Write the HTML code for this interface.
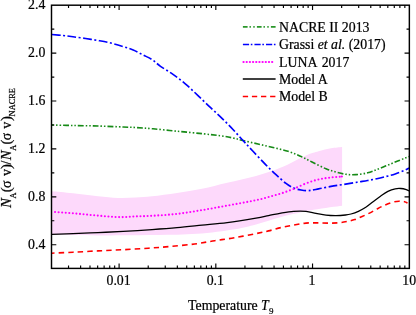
<!DOCTYPE html>
<html><head><meta charset="utf-8">
<style>
html,body{margin:0;padding:0;background:#fff;}
body{width:416px;height:315px;overflow:hidden;}
svg{display:block;will-change:transform;}
text{font-family:"Liberation Serif",serif;font-size:13.8px;fill:#000;stroke:#000;stroke-width:0.22px;}
</style></head><body>
<svg width="416" height="315" viewBox="0 0 416 315">
<rect width="416" height="315" fill="#fff"/>
<path d="M51.80 191.30 C55.33 191.63 65.30 192.47 73.00 193.30 C80.70 194.13 90.50 195.52 98.00 196.30 C105.50 197.08 111.72 197.78 118.00 198.00 C124.28 198.22 130.03 197.88 135.70 197.60 C141.37 197.32 145.12 197.07 152.00 196.30 C158.88 195.53 168.67 194.25 177.00 193.00 C185.33 191.75 193.63 190.50 202.00 188.80 C210.37 187.10 218.20 184.93 227.20 182.80 C236.20 180.67 247.03 178.53 256.00 176.00 C264.97 173.47 272.67 171.02 281.00 167.60 C289.33 164.18 299.73 158.22 306.00 155.50 C312.27 152.78 314.43 152.50 318.60 151.30 C322.77 150.10 327.08 149.02 331.00 148.30 C334.92 147.58 340.25 147.22 342.10 147.00 L342.10 205.70 L342.10 205.70 C337.35 206.38 323.78 207.92 313.60 209.80 C303.42 211.68 290.60 214.55 281.00 217.00 C271.40 219.45 263.67 222.47 256.00 224.50 C248.33 226.53 244.83 227.65 235.00 229.20 C225.17 230.75 209.83 232.83 197.00 233.80 C184.17 234.77 170.33 234.77 158.00 235.00 C145.67 235.23 133.00 235.13 123.00 235.20 C113.00 235.27 106.33 235.43 98.00 235.40 C89.67 235.37 80.70 235.15 73.00 235.00 C65.30 234.85 55.33 234.58 51.80 234.50 Z" fill="#fdd9fb" stroke="none"/>
<g fill="none" stroke-linejoin="round">
<path d="M51.80 125.00 C55.33 125.08 65.30 125.33 73.00 125.50 C80.70 125.67 89.63 125.75 98.00 126.00 C106.37 126.25 116.92 126.75 123.20 127.00 C129.48 127.25 130.73 127.20 135.70 127.50 C140.67 127.80 145.95 128.17 153.00 128.80 C160.05 129.43 169.63 130.47 178.00 131.30 C186.37 132.13 196.12 133.05 203.20 133.80 C210.28 134.55 215.53 135.10 220.50 135.80 C225.47 136.50 229.25 137.22 233.00 138.00 C236.75 138.78 238.83 139.50 243.00 140.50 C247.17 141.50 253.00 142.83 258.00 144.00 C263.00 145.17 268.00 146.28 273.00 147.50 C278.00 148.72 283.40 149.83 288.00 151.30 C292.60 152.77 296.60 154.52 300.60 156.30 C304.60 158.08 307.77 159.92 312.00 162.00 C316.23 164.08 322.00 167.13 326.00 168.80 C330.00 170.47 332.67 171.08 336.00 172.00 C339.33 172.92 342.67 173.87 346.00 174.30 C349.33 174.73 352.40 174.85 356.00 174.60 C359.60 174.35 364.13 173.65 367.60 172.80 C371.07 171.95 373.73 170.67 376.80 169.50 C379.87 168.33 382.93 167.03 386.00 165.80 C389.07 164.57 392.13 163.33 395.20 162.10 C398.27 160.87 402.10 159.32 404.40 158.40 C406.70 157.48 408.23 156.90 409.00 156.60" stroke="#168a16" stroke-width="1.6" stroke-dasharray="5.8 2 1.5 2 1.5 2" stroke-dashoffset="3.45"/>
<path d="M51.80 34.50 C53.67 34.67 59.47 35.12 63.00 35.50 C66.53 35.88 69.23 36.30 73.00 36.80 C76.77 37.30 81.43 37.88 85.60 38.50 C89.77 39.12 93.82 39.75 98.00 40.50 C102.18 41.25 106.50 41.98 110.70 43.00 C114.90 44.02 119.45 45.43 123.20 46.60 C126.95 47.77 129.87 48.60 133.20 50.00 C136.53 51.40 140.07 53.40 143.20 55.00 C146.33 56.60 149.12 57.72 152.00 59.60 C154.88 61.48 157.00 63.83 160.50 66.30 C164.00 68.77 168.82 71.43 173.00 74.40 C177.18 77.37 181.43 80.57 185.60 84.10 C189.77 87.63 193.83 91.67 198.00 95.60 C202.17 99.53 206.60 103.92 210.60 107.70 C214.60 111.48 218.27 114.67 222.00 118.30 C225.73 121.93 229.50 125.80 233.00 129.50 C236.50 133.20 239.67 136.87 243.00 140.50 C246.33 144.13 249.23 147.28 253.00 151.30 C256.77 155.32 261.77 160.72 265.60 164.60 C269.43 168.48 272.60 171.47 276.00 174.60 C279.40 177.73 283.07 181.17 286.00 183.40 C288.93 185.63 291.10 186.90 293.60 188.00 C296.10 189.10 298.50 189.57 301.00 190.00 C303.50 190.43 305.67 190.78 308.60 190.60 C311.53 190.42 314.87 189.60 318.60 188.90 C322.33 188.20 326.82 187.15 331.00 186.40 C335.18 185.65 339.13 185.13 343.70 184.40 C348.27 183.67 354.42 182.65 358.40 182.00 C362.38 181.35 364.53 181.05 367.60 180.50 C370.67 179.95 373.73 179.37 376.80 178.70 C379.87 178.03 382.93 177.28 386.00 176.50 C389.07 175.72 392.13 175.02 395.20 174.00 C398.27 172.98 402.10 171.40 404.40 170.40 C406.70 169.40 408.23 168.40 409.00 168.00" stroke="#0000ff" stroke-width="1.65" stroke-dasharray="8.8 2.5 2 2.5"/>
<path d="M55.05 212.01h0.01 M58.61 212.25h0.01 M62.17 212.49h0.01 M65.73 212.74h0.01 M69.29 213.01h0.01 M72.84 213.29h0.01 M76.40 213.59h0.01 M79.96 213.92h0.01 M83.52 214.26h0.01 M87.08 214.60h0.01 M90.64 214.93h0.01 M94.20 215.26h0.01 M97.76 215.58h0.01 M101.32 215.89h0.01 M104.88 216.22h0.01 M108.44 216.54h0.01 M111.99 216.81h0.01 M115.55 217.02h0.01 M119.11 217.12h0.01 M122.67 217.08h0.01 M126.23 216.93h0.01 M129.79 216.72h0.01 M133.35 216.51h0.01 M136.91 216.36h0.01 M140.47 216.25h0.01 M144.03 216.16h0.01 M147.58 216.03h0.01 M151.14 215.85h0.01 M154.70 215.64h0.01 M158.26 215.42h0.01 M161.82 215.20h0.01 M165.38 214.95h0.01 M168.94 214.67h0.01 M172.50 214.36h0.01 M176.06 214.00h0.01 M179.62 213.58h0.01 M183.17 213.11h0.01 M186.73 212.59h0.01 M190.29 212.03h0.01 M193.85 211.46h0.01 M197.41 210.86h0.01 M200.97 210.27h0.01 M204.53 209.68h0.01 M208.09 209.07h0.01 M211.65 208.44h0.01 M215.20 207.80h0.01 M218.76 207.15h0.01 M222.32 206.50h0.01 M225.88 205.84h0.01 M229.44 205.19h0.01 M233.00 204.54h0.01 M236.56 203.89h0.01 M240.12 203.24h0.01 M243.68 202.58h0.01 M247.24 201.92h0.01 M250.80 201.24h0.01 M254.35 200.54h0.01 M257.91 199.79h0.01 M261.47 198.96h0.01 M265.03 197.98h0.01 M268.59 196.98h0.01 M272.15 196.03h0.01 M275.71 195.07h0.01 M279.27 194.04h0.01 M282.83 192.90h0.01 M286.38 191.66h0.01 M289.94 190.34h0.01 M293.50 188.94h0.01 M297.06 187.39h0.01 M300.62 185.73h0.01 M304.18 184.13h0.01 M307.74 182.75h0.01 M311.30 181.50h0.01 M314.86 180.39h0.01 M318.42 179.44h0.01 M321.98 178.71h0.01 M325.53 178.17h0.01 M329.09 177.73h0.01 M332.65 177.32h0.01 M336.21 176.99h0.01 M339.77 176.71h0.01 M341.90 176.55h0.01" stroke="#ff00ff" stroke-width="2.1" stroke-linecap="round"/>
<path d="M51.80 234.40 C55.33 234.27 65.30 233.90 73.00 233.60 C80.70 233.30 89.63 232.97 98.00 232.60 C106.37 232.23 114.20 231.90 123.20 231.40 C132.20 230.90 143.03 230.22 152.00 229.60 C160.97 228.98 168.67 228.43 177.00 227.70 C185.33 226.97 193.63 226.05 202.00 225.20 C210.37 224.35 218.20 223.78 227.20 222.60 C236.20 221.42 249.12 219.27 256.00 218.10 C262.88 216.93 264.33 216.43 268.50 215.60 C272.67 214.77 276.82 213.82 281.00 213.10 C285.18 212.38 289.43 211.60 293.60 211.30 C297.77 211.00 302.27 210.97 306.00 211.30 C309.73 211.63 312.67 212.67 316.00 213.30 C319.33 213.93 322.67 214.72 326.00 215.10 C329.33 215.48 332.75 215.62 336.00 215.60 C339.25 215.58 343.00 215.27 345.50 215.00 C348.00 214.73 348.85 214.62 351.00 214.00 C353.15 213.38 355.93 212.42 358.40 211.30 C360.87 210.18 363.35 208.90 365.80 207.30 C368.25 205.70 370.65 203.55 373.10 201.70 C375.55 199.85 378.03 197.92 380.50 196.20 C382.97 194.48 385.45 192.63 387.90 191.40 C390.35 190.17 393.05 189.28 395.20 188.80 C397.35 188.32 398.95 188.37 400.80 188.50 C402.65 188.63 404.88 189.18 406.30 189.60 C407.72 190.02 408.80 190.77 409.30 191.00" stroke="#000" stroke-width="1.3"/>
<path d="M51.80 253.20 C55.33 253.03 65.30 252.58 73.00 252.20 C80.70 251.82 89.63 251.32 98.00 250.90 C106.37 250.48 114.82 250.15 123.20 249.70 C131.58 249.25 140.50 248.73 148.30 248.20 C156.10 247.67 162.28 247.20 170.00 246.50 C177.72 245.80 187.15 244.97 194.60 244.00 C202.05 243.03 208.02 241.75 214.70 240.70 C221.38 239.65 227.82 238.88 234.70 237.70 C241.58 236.52 250.37 234.73 256.00 233.60 C261.63 232.47 264.33 231.90 268.50 230.90 C272.67 229.90 276.82 228.57 281.00 227.60 C285.18 226.63 289.43 225.85 293.60 225.10 C297.77 224.35 301.83 223.47 306.00 223.10 C310.17 222.73 314.43 222.90 318.60 222.90 C322.77 222.90 327.43 223.13 331.00 223.10 C334.57 223.07 337.27 222.98 340.00 222.70 C342.73 222.42 344.95 221.92 347.40 221.40 C349.85 220.88 352.25 220.42 354.70 219.60 C357.15 218.78 359.63 217.58 362.10 216.50 C364.57 215.42 367.05 214.33 369.50 213.10 C371.95 211.87 374.35 210.38 376.80 209.10 C379.25 207.82 381.73 206.50 384.20 205.40 C386.67 204.30 389.15 203.20 391.60 202.50 C394.05 201.80 396.75 201.33 398.90 201.20 C401.05 201.07 403.07 201.40 404.50 201.70 C405.93 202.00 407.00 202.78 407.50 203.00" stroke="#ff0000" stroke-width="1.6" stroke-dasharray="5.4 4.1" stroke-dashoffset="2.5"/>
</g>
<rect x="51.5" y="5.2" width="357.85" height="263.2" fill="none" stroke="#000" stroke-width="1.45"/>
<path d="M51.50 244.70 h4.80 M409.35 244.70 h-4.80 M51.50 220.75 h2.80 M409.35 220.75 h-2.80 M51.50 196.80 h4.80 M409.35 196.80 h-4.80 M51.50 172.85 h2.80 M409.35 172.85 h-2.80 M51.50 148.90 h4.80 M409.35 148.90 h-4.80 M51.50 124.95 h2.80 M409.35 124.95 h-2.80 M51.50 101.00 h4.80 M409.35 101.00 h-4.80 M51.50 77.05 h2.80 M409.35 77.05 h-2.80 M51.50 53.10 h4.80 M409.35 53.10 h-4.80 M51.50 29.15 h2.80 M409.35 29.15 h-2.80 M68.53 268.40 v-2.80 M68.53 5.20 v2.80 M80.62 268.40 v-2.80 M80.62 5.20 v2.80 M89.99 268.40 v-2.80 M89.99 5.20 v2.80 M97.65 268.40 v-2.80 M97.65 5.20 v2.80 M104.12 268.40 v-2.80 M104.12 5.20 v2.80 M109.73 268.40 v-2.80 M109.73 5.20 v2.80 M114.68 268.40 v-2.80 M114.68 5.20 v2.80 M119.10 268.40 v-4.80 M119.10 5.20 v4.80 M148.22 268.40 v-2.80 M148.22 5.20 v2.80 M165.25 268.40 v-2.80 M165.25 5.20 v2.80 M177.34 268.40 v-2.80 M177.34 5.20 v2.80 M186.71 268.40 v-2.80 M186.71 5.20 v2.80 M194.37 268.40 v-2.80 M194.37 5.20 v2.80 M200.84 268.40 v-2.80 M200.84 5.20 v2.80 M206.45 268.40 v-2.80 M206.45 5.20 v2.80 M211.40 268.40 v-2.80 M211.40 5.20 v2.80 M215.82 268.40 v-4.80 M215.82 5.20 v4.80 M244.94 268.40 v-2.80 M244.94 5.20 v2.80 M261.97 268.40 v-2.80 M261.97 5.20 v2.80 M274.06 268.40 v-2.80 M274.06 5.20 v2.80 M283.43 268.40 v-2.80 M283.43 5.20 v2.80 M291.09 268.40 v-2.80 M291.09 5.20 v2.80 M297.56 268.40 v-2.80 M297.56 5.20 v2.80 M303.17 268.40 v-2.80 M303.17 5.20 v2.80 M308.12 268.40 v-2.80 M308.12 5.20 v2.80 M312.54 268.40 v-4.80 M312.54 5.20 v4.80 M341.66 268.40 v-2.80 M341.66 5.20 v2.80 M358.69 268.40 v-2.80 M358.69 5.20 v2.80 M370.78 268.40 v-2.80 M370.78 5.20 v2.80 M380.15 268.40 v-2.80 M380.15 5.20 v2.80 M387.81 268.40 v-2.80 M387.81 5.20 v2.80 M394.28 268.40 v-2.80 M394.28 5.20 v2.80 M399.89 268.40 v-2.80 M399.89 5.20 v2.80 M404.84 268.40 v-2.80 M404.84 5.20 v2.80" stroke="#000" stroke-width="1.15" fill="none"/>
<g>
<text x="45.3" y="248.75" text-anchor="end">0.4</text>
<text x="45.3" y="200.85" text-anchor="end">0.8</text>
<text x="45.3" y="152.95" text-anchor="end">1.2</text>
<text x="45.3" y="105.05" text-anchor="end">1.6</text>
<text x="45.3" y="57.15" text-anchor="end">2.0</text>
<text x="45.3" y="8.95" text-anchor="end">2.4</text>
<text x="118.60" y="285.2" text-anchor="middle">0.01</text>
<text x="215.32" y="285.2" text-anchor="middle">0.1</text>
<text x="312.04" y="285.2" text-anchor="middle">1</text>
<text x="409.16" y="285.2" text-anchor="middle">10</text>
</g>
<!-- legend -->
<g fill="none">
<path d="M242.9 26.85H275.6" stroke="#2a962a" stroke-width="1.8" stroke-dasharray="4.7 1.9 1.4 2.4 1.4 2.2"/>
<path d="M242.9 44.5H275.7" stroke="#0000ff" stroke-width="1.7" stroke-dasharray="6.2 1.7 1.6 2.05"/>
<path d="M243.5 62H273" stroke="#ff00ff" stroke-width="2.2" stroke-linecap="round" stroke-dasharray="0.1 3.08"/>
<path d="M242.8 79H275.6" stroke="#000" stroke-width="1.3"/>
<path d="M242.8 96.5H275.5" stroke="#ff0000" stroke-width="1.5" stroke-dasharray="5.3 3.8"/>
</g>
<text x="279" y="31.6">NACRE II 2013</text>
<text x="279" y="49.3">Grassi <tspan font-style="italic">et al.</tspan> (2017)</text>
<text x="279.1" y="66.6">LUNA<tspan dx="4.3">2017</tspan></text>
<text x="279" y="84">Model A</text>
<text x="279" y="101.1">Model B</text>
<text x="188.1" y="309.7">Temperature <tspan font-style="italic">T</tspan><tspan font-size="9" dx="0.3" dy="4.3">9</tspan></text>
<g transform="translate(10.6 208.7) rotate(-90)" style="font-size:14.5px">
<text x="0.8" y="0" style="font-size:14.8px;font-style:italic">N</text>
<text x="10.3" y="5.1" style="font-size:8.2px">A</text>
<text x="16.5" y="0" style="font-size:14.8px">(</text>
<text x="20.75" y="0">σ</text>
<text x="32.6" y="0" style="font-size:14px">v</text>
<text x="39.7" y="0" style="font-size:14.8px">)</text>
<text x="44.3" y="0">/</text>
<text x="48.35" y="0" style="font-size:14.8px;font-style:italic">N</text>
<text x="57.9" y="5.1" style="font-size:8.2px">A</text>
<text x="64.2" y="0" style="font-size:14.8px">(</text>
<text x="68.45" y="0">σ</text>
<text x="80" y="0" style="font-size:14px">v</text>
<text x="87.7" y="0" style="font-size:14.8px">)</text>
<text x="92.3" y="4.7" style="font-size:8.4px">NACRE</text>
</g>
</svg>
</body></html>
